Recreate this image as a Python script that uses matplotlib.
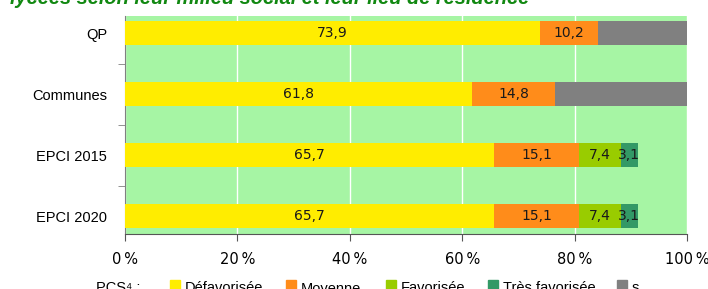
import matplotlib.pyplot as plt
from matplotlib.patches import Rectangle

categories = ["QP", "Communes", "EPCI 2015", "EPCI 2020"]
series_names = ["Défavorisée", "Moyenne", "Favorisée", "Très favorisée", "s"]
defavorisee = [73.9, 61.8, 65.7, 65.7]
moyenne = [10.2, 14.8, 15.1, 15.1]
favorisee = [0, 0, 7.4, 7.4]
tres_favorisee = [0, 0, 3.1, 3.1]
secret = [15.9, 23.4, 0, 0]
xticks = [0, 20, 40, 60, 80, 100]
xtick_labels = ["0\u2009%", "20\u2009%", "40\u2009%", "60\u2009%", "80\u2009%", "100\u2009%"]

colors = ["#ffed00", "#ff8c1a", "#99cc00", "#339966", "#808080"]
series = [defavorisee, moyenne, favorisee, tres_favorisee, secret]
labelled = [True, True, True, True, False]

plt.rcParams["font.family"] = ["Liberation Sans", "DejaVu Sans"]

fig = plt.figure(figsize=(7.08, 2.89), dpi=100)
W, H = 708, 289
ax = fig.add_axes([125 / W, 1 - 234 / H, (687 - 125) / W, (234 - 16) / H])
ax.set_facecolor("#a6f5a4")

ypos = list(range(len(categories)))
left = [0] * len(categories)
for vals, col, lab in zip(series, colors, labelled):
    ax.barh(ypos, vals, left=left, height=0.39, color=col, zorder=3)
    if lab:
        for y, l, v in zip(ypos, left, vals):
            if v > 0:
                ax.text(l + v / 2, y, f"{v:.1f}".replace(".", ","), ha="center", va="center",
                        fontsize=10, family="DejaVu Sans", color="#1a1a1a", zorder=4)
    left = [a + b for a, b in zip(left, vals)]

ax.set_xlim(0, 100)
ax.set_ylim(3.29, -0.28)
ax.set_yticks(ypos)
ax.set_yticklabels(categories, fontsize=10.5)
ax.set_yticks([0.5, 1.5, 2.5], minor=True)
ax.tick_params(axis="y", which="major", length=0, pad=13)
ax.tick_params(axis="y", which="minor", length=5, color="#808080")
ax.set_xticks(xticks)
ax.set_xticklabels(xtick_labels, fontsize=10.5, family=["DejaVu Sans"])
ax.tick_params(axis="x", length=5, color="#555555", pad=8)
ax.grid(axis="x", color="white", linewidth=1, zorder=1)
ax.set_axisbelow(True)
for s in ["top", "right"]:
    ax.spines[s].set_visible(False)
ax.spines["left"].set_color("#808080")
ax.spines["bottom"].set_color("#555555")

fig.text(10 / W, 1 - 4 / H, "lycées selon leur milieu social et leur lieu de résidence",
         fontsize=14.4, fontweight="bold", fontstyle="italic", color="#118811",
         ha="left", va="baseline")

# legend row, partly cut by the bottom edge
base = 1 - 292.5 / H
fig.text(96 / W, base, "PCS\u2074 :", fontsize=10.5, ha="left", va="baseline")
sq_x = [170, 286, 386, 488, 617]
for x, name, col in zip(sq_x, series_names, colors):
    fig.add_artist(Rectangle((x / W, 1 - 290 / H), 10 / W, 10 / H, color=col,
                             transform=fig.transFigure))
    fig.text((x + 15) / W, base, name, fontsize=10.5, ha="left", va="baseline")

fig.savefig("out.png", dpi=100)
